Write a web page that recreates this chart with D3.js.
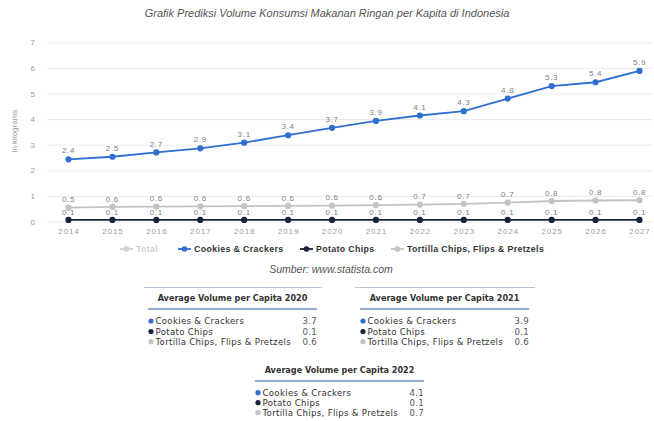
<!DOCTYPE html>
<html><head><meta charset="utf-8">
<script src="https://cdn.jsdelivr.net/npm/d3@7"></script>
<style>body{margin:0;background:#fff}svg{display:block}</style>
</head><body><svg id="c" width="654" height="421"></svg>
<script>
const title = "Grafik Prediksi Volume Konsumsi Makanan Ringan per Kapita di Indonesia";
const source = "Sumber: www.statista.com";
const yAxisLabel = "in kilograms";
const years = [2014,2015,2016,2017,2018,2019,2020,2021,2022,2023,2024,2025,2026,2027];
const yTicks = [0,1,2,3,4,5,6,7];
const seriesNames = ["Total","Cookies & Crackers","Potato Chips","Tortilla Chips, Flips & Pretzels"];
const cookies  = [2.43,2.53,2.7,2.86,3.08,3.37,3.66,3.93,4.14,4.31,4.8,5.29,5.44,5.88];
const potato   = [0.06,0.06,0.06,0.06,0.06,0.06,0.06,0.06,0.06,0.06,0.06,0.06,0.06,0.06];
const tortilla = [0.54,0.57,0.58,0.59,0.6,0.61,0.62,0.64,0.66,0.69,0.74,0.8,0.82,0.83];
const tableYears = [2020,2021,2022];
const tableTitlePrefix = "Average Volume per Capita ";

const colors = {cookies:"#2f6fd1", potato:"#15223a", tortilla:"#c3c3c3", total:"#d0d0d0"};
const fmt = d3.format(".1f");
const svg = d3.select("#c");
const FONT = "'Liberation Sans', Arial, sans-serif";

const x = d3.scalePoint().domain(years).range([68.5, 639.5]);
const y = d3.scaleLinear().domain([0,7]).range([221.5, 42.3]);

// title
svg.append("text").attr("x",327).attr("y",17).attr("text-anchor","middle")
  .attr("font-family",FONT).attr("font-style","italic").attr("font-size",11)
  .attr("fill","#555").text(title);

// grid + y axis
const yAxis = d3.axisLeft(y).tickValues(yTicks).tickSize(-(652-47)).tickFormat(d3.format("d"));
const gy = svg.append("g").attr("transform","translate(47,0)").call(yAxis);
gy.select(".domain").remove();
gy.selectAll(".tick line").attr("stroke","#ebebeb").attr("stroke-width",1);
gy.selectAll(".tick text").attr("x",-12).attr("fill","#9a9a9a").attr("font-size",8).attr("font-family",FONT);

svg.append("text").attr("transform","translate(17,131) rotate(-90)").attr("text-anchor","middle")
  .attr("font-family",FONT).attr("font-size",8).attr("fill","#9a9a9a").text(yAxisLabel);

// x axis
const xAxis = d3.axisBottom(x).tickSize(0).tickPadding(0);
const gx = svg.append("g").attr("transform","translate(0,233.5)").call(xAxis);
gx.select(".domain").remove();
gx.selectAll(".tick text").attr("fill","#9a9a9a").attr("font-size",8).attr("font-family",FONT)
  .attr("letter-spacing",0.9).attr("dy",0);

const line = d3.line().x((d,i)=>x(years[i])).y(d=>y(d));
function drawSeries(vals,color,labelColor,labelDy){
  const g = svg.append("g");
  g.append("path").datum(vals).attr("d",line).attr("fill","none").attr("stroke",color).attr("stroke-width",1.8);
  g.selectAll("circle").data(vals).join("circle").attr("cx",(d,i)=>x(years[i])).attr("cy",d=>y(d)).attr("r",3.1).attr("fill",color);
  g.selectAll("text").data(vals).join("text").attr("x",(d,i)=>x(years[i])).attr("y",d=>y(d)-labelDy)
    .attr("text-anchor","middle").attr("font-family",FONT).attr("font-size",8).attr("letter-spacing",0.7)
    .attr("fill",labelColor).text(d=>fmt(d));
}
drawSeries(tortilla,colors.tortilla,"#808080",5.2);
drawSeries(potato,colors.potato,"#808080",5);
drawSeries(cookies,colors.cookies,"#808080",5.8);

// legend
const legendItems = [
  {name:seriesNames[0], color:colors.total, tc:"#cfcfcf", x:120},
  {name:seriesNames[1], color:colors.cookies, tc:"#333", x:178},
  {name:seriesNames[2], color:colors.potato, tc:"#333", x:300},
  {name:seriesNames[3], color:colors.tortilla, tc:"#333", x:391}
];
const lg = svg.append("g");
legendItems.forEach(it=>{
  const g = lg.append("g").attr("transform",`translate(${it.x},249)`);
  g.append("line").attr("x1",0).attr("x2",13).attr("stroke",it.color).attr("stroke-width",1.8);
  g.append("circle").attr("cx",6.5).attr("r",2.8).attr("fill",it.color);
  g.append("text").attr("x",16).attr("y",3.2).attr("font-family",FONT).attr("font-size",8.8)
    .attr("font-weight","bold").attr("letter-spacing",0.35).attr("fill",it.tc).text(it.name);
});

svg.append("text").attr("x",331).attr("y",273).attr("text-anchor","middle")
  .attr("font-family",FONT).attr("font-style","italic").attr("font-size",10.5)
  .attr("fill","#555").text(source);

// tables
const TFONT = "'DejaVu Sans', Verdana, sans-serif";
const tableSeries = [
  {name:seriesNames[1], vals:cookies, color:colors.cookies},
  {name:seriesNames[2], vals:potato, color:colors.potato},
  {name:seriesNames[3], vals:tortilla, color:colors.tortilla}
];
const tableLayout = [
  {top:[144,322], ul:[148,317], titleY:300.5, ulY:309, rowY:[321,331.5,341.7]},
  {top:[355,535], ul:[360,529], titleY:300.5, ulY:309, rowY:[321,331.5,341.7]},
  {top:null, ul:[255,424], titleY:373, ulY:381, rowY:[392.7,402.7,412.7]}
];
tableYears.forEach((yr,ti)=>{
  const L = tableLayout[ti];
  const idx = years.indexOf(yr);
  const g = svg.append("g");
  if(L.top) g.append("line").attr("x1",L.top[0]).attr("x2",L.top[1]).attr("y1",287.5).attr("y2",287.5)
    .attr("stroke","#b8c6d6").attr("stroke-width",1);
  g.append("text").attr("x",(L.ul[0]+L.ul[1])/2).attr("y",L.titleY).attr("text-anchor","middle")
    .attr("font-family",TFONT).attr("font-size",8.1).attr("font-weight","bold").attr("fill","#333")
    .text(tableTitlePrefix+yr);
  g.append("line").attr("x1",L.ul[0]).attr("x2",L.ul[1]).attr("y1",L.ulY).attr("y2",L.ulY)
    .attr("stroke","#6a8fc4").attr("stroke-width",1.5);
  tableSeries.forEach((s,ri)=>{
    const ry = L.rowY[ri];
    g.append("circle").attr("cx",L.ul[0]+3).attr("cy",ry).attr("r",2.6).attr("fill",s.color);
    g.append("text").attr("x",L.ul[0]+7.5).attr("y",ry+3.2).attr("font-family",TFONT).attr("font-size",8.6)
      .attr("letter-spacing",0.3).attr("fill","#333").text(s.name);
    g.append("text").attr("x",L.ul[1]).attr("y",ry+3.2).attr("text-anchor","end").attr("font-family",TFONT)
      .attr("font-size",8.6).attr("letter-spacing",0.3).attr("fill","#555").text(fmt(s.vals[idx]));
  });
});
</script></body></html>
